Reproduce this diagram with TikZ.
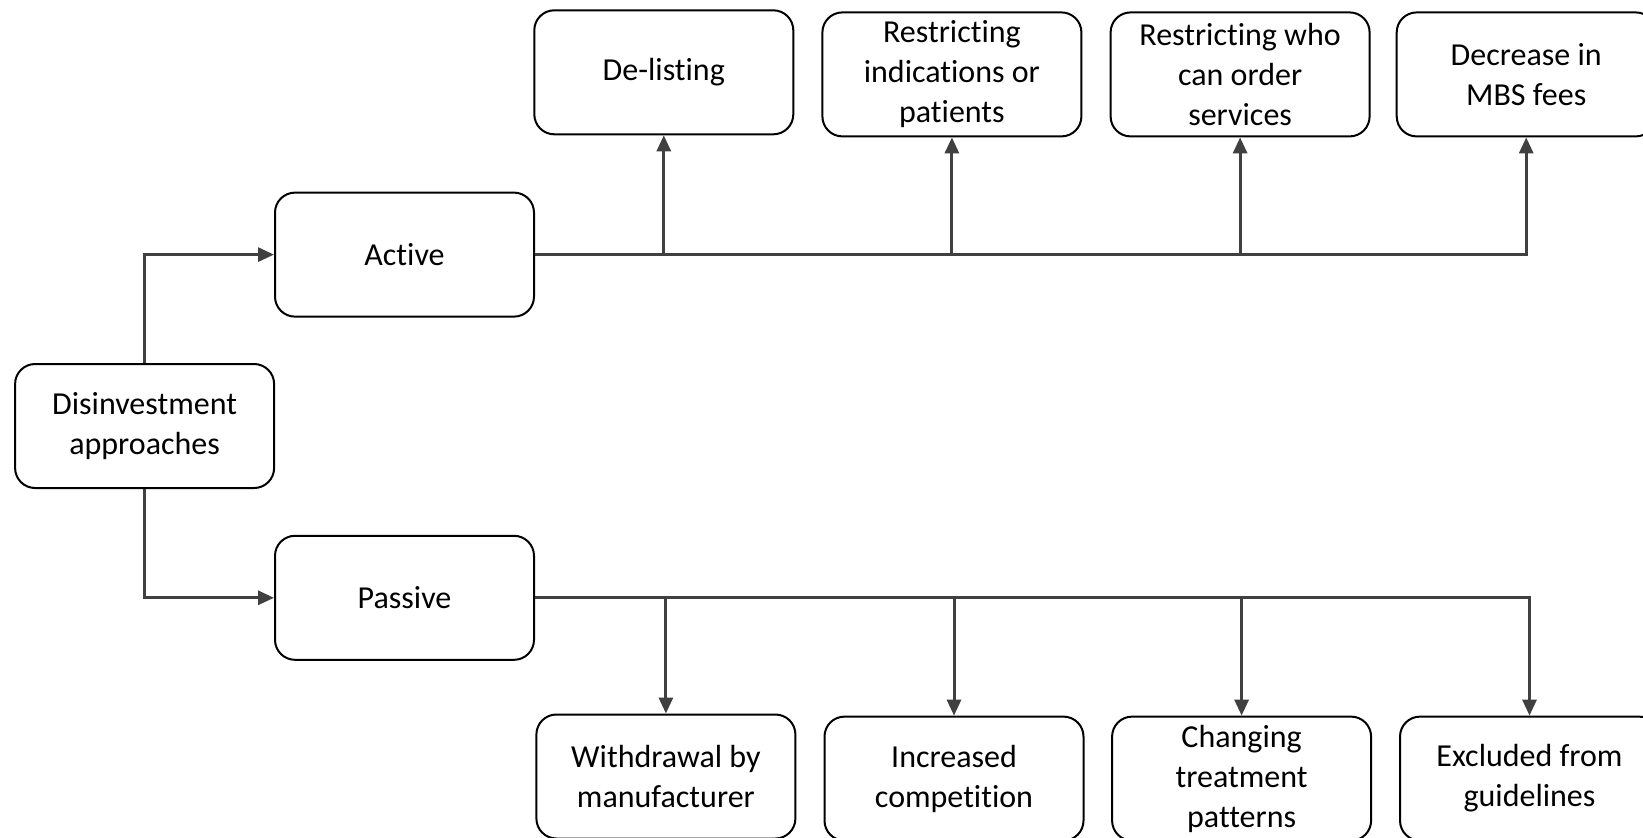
\documentclass[tikz,border=0pt]{standalone}
\usepackage{fontspec}
\setmainfont{Carlito}[Ligatures={NoCommon,NoRare,NoDiscretionary}]
\usetikzlibrary{arrows.meta}
\definecolor{linegray}{HTML}{404040}
\tikzset{
  box/.style={draw=black, line width=1pt, rounded corners=10pt, fill=white,
    minimum width=129.5pt, minimum height=62pt, align=center, inner sep=2pt,
    font=\fontsize{16}{20}\selectfont},
  conn/.style={draw=linegray, line width=1.5pt},
  arr/.style={conn, -{Triangle[length=8pt,width=7pt]}},
}
\begin{document}
\begin{tikzpicture}[x=0.5pt,y=-0.5pt]
\useasboundingbox (0,0) rectangle (1643,837);
\clip (0,0) rectangle (1643,837);
\fill[white] (0,0) rectangle (1643,837);
% nodes
\node[box] (dis) at (144.6,426) {Disinvestment\\approaches};
\node[box] (act) at (404.5,254.6) {Active};
\node[box] (pas) at (404.5,597.8) {Passive};
\node[box] (dl)  at (663.8,72.3) {De-listing};
\node[box] (ri)  at (951.9,74.4) {Restricting\\indications or\\patients};
\node[box] (rw)  at (1240.1,74.4) {Restricting who\\can order\\services};
\node[box] (dec) at (1526.2,74.4) {Decrease in\\MBS fees};
\node[box] (wd)  at (665.9,776.5) {Withdrawal by\\manufacturer};
\node[box] (ic)  at (954,778.6) {Increased\\competition};
\node[box] (ct)  at (1241.6,778.6) {Changing\\treatment\\patterns};
\node[box] (ex)  at (1529.5,778.6) {Excluded from\\guidelines};
% connectors
\draw[arr] (dis.north) |- (act.west);
\draw[arr] (dis.south) |- (pas.west);
\draw[arr] (act.east) -| (dec.south);
\draw[arr] (act.east -| dl.south) -- (dl.south);
\draw[arr] (act.east -| ri.south) -- (ri.south);
\draw[arr] (act.east -| rw.south) -- (rw.south);
\draw[arr] (pas.east) -| (ex.north);
\draw[arr] (pas.east -| wd.north) -- (wd.north);
\draw[arr] (pas.east -| ic.north) -- (ic.north);
\draw[arr] (pas.east -| ct.north) -- (ct.north);
\end{tikzpicture}
\end{document}
